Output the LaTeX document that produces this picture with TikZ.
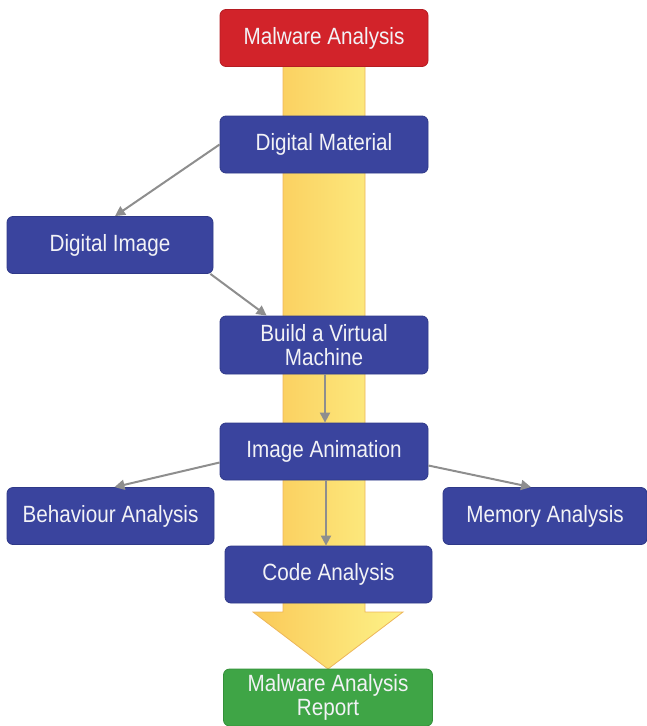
\documentclass[tikz,border=0pt]{standalone}
\usepackage{fontspec}
\setmainfont{Liberation Sans}[FakeStretch=0.88]
\usetikzlibrary{arrows.meta}

\definecolor{boxblue}{HTML}{3A449E}
\definecolor{boxblueedge}{HTML}{2F3988}
\definecolor{boxred}{HTML}{D2232A}
\definecolor{boxrededge}{HTML}{B51C22}
\definecolor{boxgreen}{HTML}{3FA546}
\definecolor{boxgreenedge}{HTML}{34903A}
\definecolor{flowleft}{HTML}{FAC958}
\definecolor{flowright}{HTML}{FDF288}
\definecolor{flowedge}{HTML}{EDB65A}
\definecolor{linkgray}{HTML}{8E8E8E}
\definecolor{labelwhite}{HTML}{F2F2F6}

\tikzset{
  stagebox/.style={rectangle, rounded corners=6pt, line width=0.8pt,
    minimum width=208pt, minimum height=57pt, inner sep=2pt,
    text=labelwhite, align=center,
    font=\fontsize{23.5}{24}\selectfont},
  bluebox/.style={stagebox, fill=boxblue, draw=boxblueedge},
  redbox/.style={stagebox, fill=boxred, draw=boxrededge},
  greenbox/.style={stagebox, fill=boxgreen, draw=boxgreenedge},
  link/.style={draw=linkgray, line width=2pt,
    -{Triangle[length=10pt,width=10pt]}},
}

\begin{document}
\begin{tikzpicture}[x=1pt,y=-1pt]
  \useasboundingbox (0,0) rectangle (647,726);

  % broad yellow flow arrow behind the stages
  \path[draw=flowedge, line width=0.8pt, left color=flowleft, right color=flowright]
    (283,66) -- (365,66) -- (365,612) -- (403,612) -- (328,669)
    -- (253,612) -- (283,612) -- cycle;

  % stages
  \node[redbox]   (mal) at (324,38)    {Malware Analysis};
  \node[bluebox]  (dm)  at (324,144.5) {Digital Material};
  \node[bluebox, minimum width=206pt] (di) at (110,245) {Digital Image};
  \node[bluebox, minimum height=58pt] (vm) at (324,345) {Build a Virtual\\Machine};
  \node[bluebox]  (ia)  at (324,451.5) {Image Animation};
  \node[bluebox, minimum width=207pt] (ba) at (110.5,516) {Behaviour Analysis};
  \node[bluebox, minimum width=204pt] (ma) at (545,516) {Memory Analysis};
  \node[bluebox, minimum width=207pt] (ca) at (328.5,574.5) {Code Analysis};
  \node[greenbox, minimum width=209pt] (rep) at (328,697.5) {Malware Analysis\\Report};

  % connectors
  \draw[link] (dm.west) -- ([xshift=5pt]di.north);
  \draw[link] ([xshift=-3pt]di.south east) -- ([xshift=47pt]vm.north west);
  \draw[link] ([xshift=1pt]vm.south) -- ([xshift=1pt]ia.north);
  \draw[link] ([yshift=-11pt]ia.west) -- ([xshift=4pt]ba.north);
  \draw[link] ([yshift=-14pt]ia.east) -- ([xshift=-14pt]ma.north);
  \draw[link] ([xshift=2pt]ia.south) -- ([xshift=-2.5pt]ca.north);
\end{tikzpicture}
\end{document}
